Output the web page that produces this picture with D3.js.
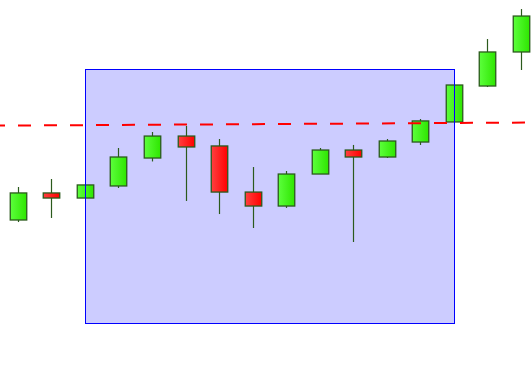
<!DOCTYPE html>
<meta charset="utf-8"/>
<head>
<script src="https://d3js.org/d3.v7.min.js"></script>
<style>
  body { margin: 0; background: #fff; }
  svg { display: block; }
</style>
</head>
<body>
<div id="chart"></div>
<script>

// candle data (price units)
var opens  = [28.11, 30.24, 29.84, 30.79, 32.99, 34.72, 33.94, 30.31, 29.21, 31.73, 33.62, 33.07, 34.25, 35.83, 38.66, 41.34];
var closes = [30.24, 29.84, 30.87, 33.07, 34.72, 33.86, 30.31, 29.21, 31.73, 33.62, 33.07, 34.33, 35.91, 38.74, 41.34, 44.17];
var highs  = [30.71, 31.34, 30.87, 33.78, 35.04, 35.51, 34.49, 32.28, 31.97, 33.78, 34.02, 34.49, 36.06, 38.74, 42.36, 44.72];
var lows   = [27.95, 28.27, 29.84, 30.63, 32.72, 29.61, 28.58, 27.48, 29.06, 31.73, 26.38, 32.99, 34.02, 35.83, 38.58, 39.92];

// highlighted zone: from candle index to candle index, price range
var zoneIdx   = [2, 13];
var zonePrice = [20, 40];

// trend line: [index, price] pairs
var trend = [[0, 35.55], [15, 35.78]];

var width = 532, height = 389;

var x = d3.scaleLinear()
    .domain([0, 15])
    .range([17.8, 521]);

var y = d3.scaleLinear()
    .domain([20, 40])
    .range([323, 69]);

var bodyW = 16.5;

var svg = d3.select("#chart")
  .append("svg")
    .attr("width", width)
    .attr("height", height);

var defs = svg.append("defs");

function grad(id, c1, c2) {
  var g = defs.append("linearGradient")
      .attr("id", id)
      .attr("x1", "0%").attr("x2", "100%")
      .attr("y1", "0%").attr("y2", "0%");
  g.append("stop").attr("offset", "0%").attr("stop-color", c1);
  g.append("stop").attr("offset", "100%").attr("stop-color", c2);
}
grad("up", "#5cff3c", "#2ee600");
grad("down", "#ff4040", "#ff0000");

// zone fill (behind candles)
var zx0 = Math.round(x(zoneIdx[0])) + 0.5, zx1 = Math.round(x(zoneIdx[1])) + 0.5,
    zy0 = Math.round(y(zonePrice[1])) + 0.5, zy1 = Math.round(y(zonePrice[0])) + 0.5;

svg.append("rect")
    .attr("x", zx0)
    .attr("y", zy0)
    .attr("width", zx1 - zx0)
    .attr("height", zy1 - zy0)
    .attr("fill", "#ccccff");

var candles = d3.range(opens.length).map(function(i) {
  return { i: i, o: opens[i], c: closes[i], h: highs[i], l: lows[i] };
});

var g = svg.append("g");

g.selectAll(".wick")
  .data(candles)
  .enter().append("line")
    .attr("class", "wick")
    .attr("x1", function(d) { return Math.round(x(d.i)) + 0.5; })
    .attr("x2", function(d) { return Math.round(x(d.i)) + 0.5; })
    .attr("y1", function(d) { return y(d.h); })
    .attr("y2", function(d) { return y(d.l); })
    .attr("stroke", "#2b5a1c")
    .attr("stroke-width", 1.2);

g.selectAll(".body")
  .data(candles)
  .enter().append("rect")
    .attr("class", "body")
    .attr("x", function(d) { return Math.round(x(d.i)) + 0.5 - bodyW / 2; })
    .attr("y", function(d) { return y(Math.max(d.o, d.c)); })
    .attr("width", bodyW)
    .attr("height", function(d) { return Math.max(1, Math.abs(y(d.o) - y(d.c))); })
    .attr("fill", function(d) { return d.c >= d.o ? "url(#up)" : "url(#down)"; })
    .attr("stroke", "#2b5a1c")
    .attr("stroke-width", 1.3);

// zone outline on top
svg.append("rect")
    .attr("x", zx0)
    .attr("y", zy0)
    .attr("width", zx1 - zx0)
    .attr("height", zy1 - zy0)
    .attr("fill", "none")
    .attr("stroke", "#0000ff")
    .attr("stroke-width", 1)
    .attr("shape-rendering", "crispEdges");

// trend line across the whole width
var slope = (trend[1][1] - trend[0][1]) / (trend[1][0] - trend[0][0]);
var iL = x.invert(0), iR = x.invert(width);
var line = d3.line()
    .x(function(d) { return x(d[0]); })
    .y(function(d) { return y(d[1]); });

svg.append("path")
    .datum([[iL, trend[0][1] + slope * (iL - trend[0][0])],
            [iR, trend[0][1] + slope * (iR - trend[0][0])]])
    .attr("d", line)
    .attr("fill", "none")
    .attr("stroke", "#ff0000")
    .attr("stroke-width", 2)
    .attr("stroke-dasharray", "13,13")
    .attr("stroke-dashoffset", 8);

</script>
</body>
